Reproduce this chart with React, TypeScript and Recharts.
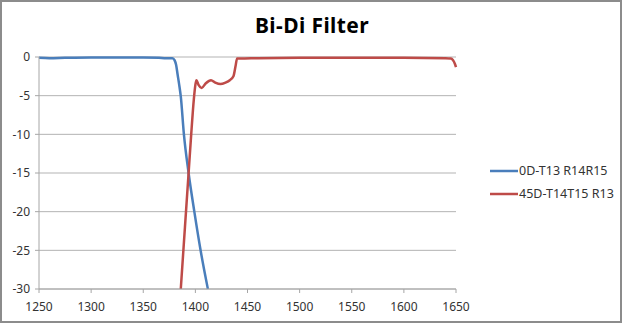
import { LineChart, Line, XAxis, YAxis, CartesianGrid } from 'recharts'

const xTicks = [1250, 1300, 1350, 1400, 1450, 1500, 1550, 1600, 1650]
const yTicks = [0, -5, -10, -15, -20, -25, -30]

// 0D-T13 R14R15 (wavelength nm, dB)
const blueX = [1250, 1260, 1275, 1300, 1325, 1350, 1365, 1372, 1378, 1380, 1381.5, 1383, 1384.5, 1386, 1389, 1393.5, 1399, 1405, 1412]
const blueY = [-0.1, -0.15, -0.1, -0.05, -0.05, -0.05, -0.1, -0.15, -0.15, -0.4, -1.0, -2.3, -3.6, -5.1, -10, -15, -20, -25, -30]

// 45D-T14T15 R13
const redX = [1386, 1390, 1393.5, 1396, 1398.5, 1400, 1401, 1403, 1406, 1410, 1415, 1419, 1424, 1429, 1433, 1436.5, 1438.5, 1440, 1443, 1460, 1500, 1550, 1600, 1640, 1645, 1647, 1649, 1650]
const redY = [-30, -22, -15, -10, -5.5, -3.6, -3.0, -3.6, -4.0, -3.4, -3.0, -3.3, -3.5, -3.3, -3.0, -2.5, -1.2, -0.2, -0.2, -0.15, -0.1, -0.1, -0.1, -0.15, -0.2, -0.4, -0.9, -1.3]

const seriesNames = ['0D-T13 R14R15', '45D-T14T15 R13']

const blueData = blueX.map((x, i) => ({ x, y: blueY[i] }))
const redData = redX.map((x, i) => ({ x, y: redY[i] }))

const BLUE = '#4a7ebb'
const RED = '#be4b48'
const FONT = '"Noto Sans", sans-serif'

const LegendBox = () => (
  <svg width={132} height={50} style={{ position: 'absolute', left: 486, top: 160 }}>
    {[
      { name: seriesNames[0], color: BLUE, y: 9 },
      { name: seriesNames[1], color: RED, y: 32 },
    ].map((s) => (
      <g key={s.name}>
        <line x1={2} x2={30} y1={s.y} y2={s.y} stroke={s.color} strokeWidth={2.5} />
        <text x={31} y={s.y + 4} fontSize={12.5} fontFamily={FONT} fill="#333">
          {s.name}
        </text>
      </g>
    ))}
  </svg>
)

export default function App() {
  return (
    <div
      style={{
        position: 'absolute',
        left: 0,
        top: 0,
        width: 622,
        height: 323,
        boxSizing: 'border-box',
        border: '2px solid #8c8c8c',
        background: '#fff',
      }}
    >
      <div
        style={{
          position: 'absolute',
          left: 0,
          top: 9,
          width: 620,
          textAlign: 'center',
          fontFamily: FONT,
          fontWeight: 'bold',
          fontSize: 21,
          letterSpacing: 0.4,
          color: '#000',
        }}
      >
        Bi-Di Filter
      </div>
      <div style={{ position: 'absolute', left: -2, top: -2 }}>
        <LineChart
          width={618}
          height={323}
          margin={{ top: 57, right: 162, left: 6, bottom: 10 }}
        >
          <CartesianGrid vertical={false} stroke="#b3b3b3" />
          <XAxis
            type="number"
            dataKey="x"
            domain={[1250, 1650]}
            ticks={xTicks}
            height={24}
            stroke="#a6a6a6"
            tickSize={4}
            tickMargin={9}
            tick={{ fill: '#333', fontSize: 12, fontFamily: FONT }}
            allowDuplicatedCategory={false}
          />
          <YAxis
            type="number"
            domain={[-30, 0]}
            ticks={yTicks}
            width={33}
            stroke="#a6a6a6"
            tickSize={4}
            tickMargin={5}
            tick={{ fill: '#333', fontSize: 12, fontFamily: FONT }}
          />
          <Line
            data={blueData}
            dataKey="y"
            type="monotone"
            stroke={BLUE}
            strokeWidth={2.5}
            dot={false}
            isAnimationActive={false}
          />
          <Line
            data={redData}
            dataKey="y"
            type="monotone"
            stroke={RED}
            strokeWidth={2.5}
            dot={false}
            isAnimationActive={false}
          />
        </LineChart>
      </div>
      <LegendBox />
    </div>
  )
}
